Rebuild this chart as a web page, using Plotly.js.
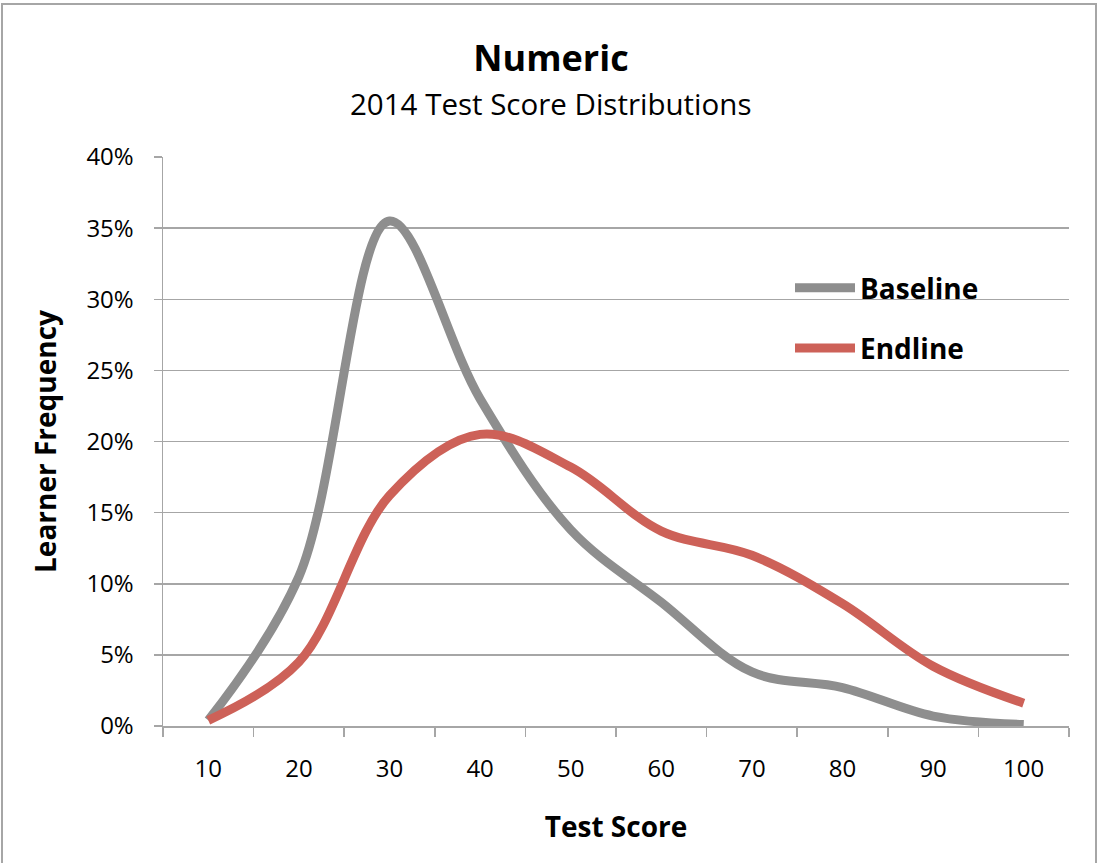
<!DOCTYPE html>
<html>
<head>
<meta charset="utf-8">
<script src="https://cdn.plot.ly/plotly-3.0.1.min.js"></script>
<style>
html,body{margin:0;padding:0;background:#fff;}
#wrap{position:relative;width:1097px;height:863px;}
#chart{width:1097px;height:863px;}
#frame{position:absolute;left:1px;top:3px;width:1092px;height:866px;border:2px solid #a6a6a6;pointer-events:none;}
</style>
</head>
<body>
<div id="wrap"><div id="chart"></div><div id="frame"></div></div>
<script>
const scores = ['10','20','30','40','50','60','70','80','90','100'];
const baseline = [0.004, 0.105, 0.355, 0.23, 0.138, 0.087, 0.038, 0.027, 0.007, 0.001];
const endline  = [0.004, 0.045, 0.162, 0.205, 0.182, 0.137, 0.12, 0.086, 0.042, 0.016];
const seriesNames = ['Baseline', 'Endline'];
const yTicks = [0, 0.05, 0.10, 0.15, 0.20, 0.25, 0.30, 0.35, 0.40];

const FONT = '"Open Sans", "Noto Sans", sans-serif';
const grid = '#a6a6a6';

const traces = [
  {x: scores, y: baseline, name: seriesNames[0], type: 'scatter', mode: 'lines',
   line: {color: '#8e8e8e', width: 9, shape: 'spline', smoothing: 1}, legendgroup: 'a'},
  {x: scores, y: endline, name: seriesNames[1], type: 'scatter', mode: 'lines',
   line: {color: '#cd6158', width: 9, shape: 'spline', smoothing: 1}, legendgroup: 'b'}
];

const layout = {
  width: 1097, height: 863,
  margin: {l: 163, r: 28, t: 157, b: 137},
  paper_bgcolor: '#fff', plot_bgcolor: '#fff',
  font: {family: FONT, color: '#000', size: 22},
  title: {text: '<b>Numeric</b>', font: {family: FONT, size: 36, color: '#000'},
          x: 551/1097, xanchor: 'center', xref: 'container', y: 1 - 58/863, yanchor: 'middle'},
  annotations: [
    {text: '2014 Test Score Distributions', xref: 'paper', yref: 'paper', x: (550-163)/906, y: 1 + (157-103)/569,
     xanchor: 'center', yanchor: 'middle', showarrow: false, font: {family: FONT, size: 29.5, color: '#000'}}
  ],
  xaxis: {
    type: 'category', categoryarray: scores, range: [-0.5, 9.5],
    tickson: 'boundaries', ticks: 'outside', ticklen: 9, tickwidth: 1.5, tickcolor: grid,
    showline: true, linecolor: grid, linewidth: 1.5, showgrid: false, zeroline: false,
    tickfont: {family: FONT, size: 24, color: '#000'}, ticklabelstandoff: 21,
    title: {text: '<b>Test Score</b>', font: {family: FONT, size: 28, color: '#000'}, standoff: 34}
  },
  yaxis: {
    range: [0, 0.4], tickvals: yTicks, tickformat: '.0%',
    ticks: 'outside', ticklen: 8, tickwidth: 1.5, tickcolor: grid,
    showline: true, linecolor: grid, linewidth: 1.5,
    showgrid: true, gridcolor: grid, gridwidth: 1.5, zeroline: false,
    tickfont: {family: FONT, size: 24, color: '#000'}, ticklabelstandoff: 15,
    title: {text: '<b>Learner Frequency</b>', font: {family: FONT, size: 28, color: '#000'}, standoff: 21}
  },
  showlegend: true,
  legend: {x: (790-163)/906, y: 1 - (263-157)/569, xanchor: 'left', yanchor: 'top',
           bgcolor: 'rgba(255,255,255,0)', traceorder: 'grouped', tracegroupgap: 21,
           itemwidth: 60, font: {family: FONT, size: 28, color: '#000', weight: 'bold'}}
};

Plotly.newPlot('chart', traces, layout, {displayModeBar: false, staticPlot: true});
</script>
</body>
</html>
